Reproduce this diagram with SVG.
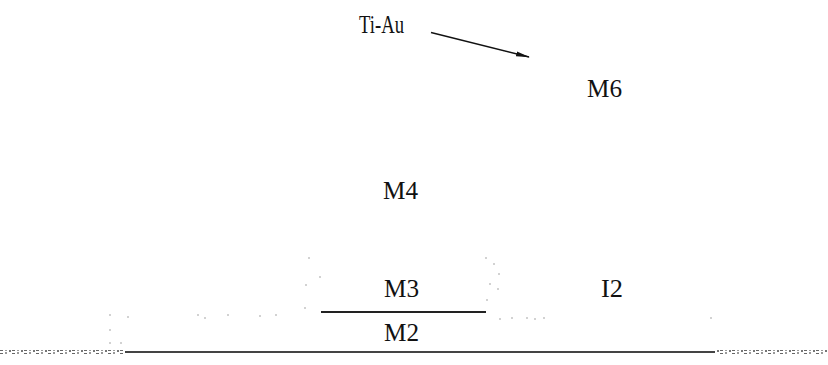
<svg xmlns="http://www.w3.org/2000/svg" width="828" height="365" viewBox="0 0 828 365">
<style>
.lbl{font-family:"Liberation Serif","Times New Roman",serif;font-size:25px;fill:#111}
.dot{fill:#999}
</style>
<defs>
<marker id="ah" markerWidth="14" markerHeight="6" refX="13" refY="3" orient="auto" markerUnits="userSpaceOnUse">
<path d="M0,0.6 L14,3 L0,5.4 Z" fill="#111"/>
</marker>
<pattern id="noise" width="12" height="4" patternUnits="userSpaceOnUse">
<rect x="0" y="1" width="3" height="2" fill="#666"/>
<rect x="5" y="0" width="2" height="3" fill="#999"/>
<rect x="9" y="2" width="2" height="2" fill="#777"/>
</pattern>
</defs>
<rect width="828" height="365" fill="#fff"/>
<g id="connectors">
<line x1="431" y1="32.5" x2="529" y2="57" stroke="#111" stroke-width="1.3" marker-end="url(#ah)"/>
</g>
<g id="ti-au"><text class="lbl" x="359" y="33" font-size="24" textLength="45" lengthAdjust="spacingAndGlyphs">Ti-Au</text></g>
<g id="m6"><text class="lbl" x="587" y="97" textLength="35" lengthAdjust="spacingAndGlyphs">M6</text></g>
<g id="m4"><text class="lbl" x="383" y="199" textLength="35" lengthAdjust="spacingAndGlyphs">M4</text></g>
<g id="m3"><text class="lbl" x="384" y="297" textLength="35" lengthAdjust="spacingAndGlyphs">M3</text></g>
<g id="m2"><text class="lbl" x="384" y="341" textLength="35" lengthAdjust="spacingAndGlyphs">M2</text></g>
<g id="i2"><text class="lbl" x="601" y="297" textLength="22" lengthAdjust="spacingAndGlyphs">I2</text></g>
<g id="layers">
<line x1="321" y1="312" x2="486" y2="312" stroke="#222" stroke-width="1.8"/>
<rect x="125" y="351" width="590" height="2" fill="#444"/>
<rect x="0" y="350" width="125" height="4" fill="url(#noise)"/>
<rect x="715" y="350" width="113" height="4" fill="url(#noise)"/>
</g>
<g id="specks">
<circle class="dot" cx="309" cy="258" r="0.8"/>
<circle class="dot" cx="320" cy="277" r="0.8"/>
<circle class="dot" cx="306" cy="285" r="0.8"/>
<circle class="dot" cx="305" cy="308" r="0.8"/>
<circle class="dot" cx="486" cy="258" r="0.8"/>
<circle class="dot" cx="494" cy="264" r="0.8"/>
<circle class="dot" cx="499" cy="274" r="0.8"/>
<circle class="dot" cx="490" cy="284" r="0.8"/>
<circle class="dot" cx="498" cy="289" r="0.8"/>
<circle class="dot" cx="487" cy="300" r="0.8"/>
<circle class="dot" cx="500" cy="319" r="0.8"/>
<circle class="dot" cx="512" cy="318" r="0.8"/>
<circle class="dot" cx="527" cy="318" r="0.8"/>
<circle class="dot" cx="110" cy="315" r="0.8"/>
<circle class="dot" cx="128" cy="317" r="0.8"/>
<circle class="dot" cx="198" cy="315" r="0.8"/>
<circle class="dot" cx="205" cy="318" r="0.8"/>
<circle class="dot" cx="228" cy="315" r="0.8"/>
<circle class="dot" cx="260" cy="316" r="0.8"/>
<circle class="dot" cx="276" cy="315" r="0.8"/>
<circle class="dot" cx="110" cy="330" r="0.8"/>
<circle class="dot" cx="110" cy="343" r="0.8"/>
<circle class="dot" cx="121" cy="343" r="0.8"/>
<circle class="dot" cx="535" cy="319" r="0.8"/>
<circle class="dot" cx="544" cy="318" r="0.8"/>
<circle class="dot" cx="711" cy="318" r="0.8"/>
</g>
</svg>
